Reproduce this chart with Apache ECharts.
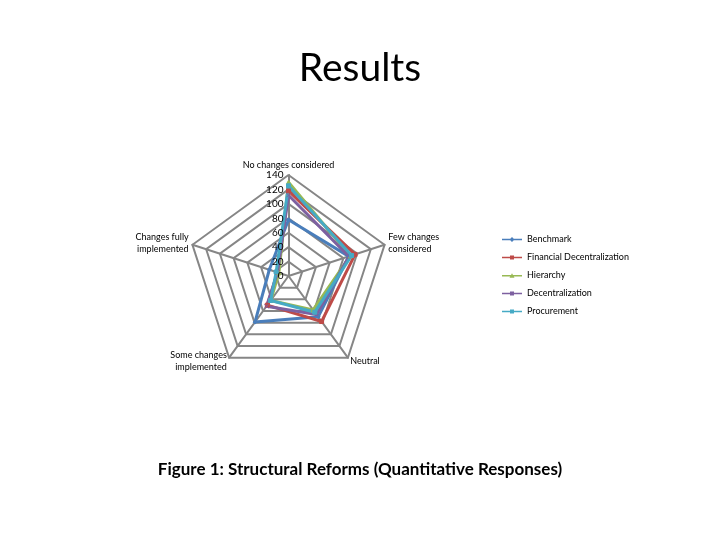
<!DOCTYPE html>
<html>
<head>
<meta charset="utf-8">
<script src="https://cdn.jsdelivr.net/npm/echarts@6/dist/echarts.min.js"></script>
<style>
  html, body { margin: 0; padding: 0; background: #fff; }
  #chart { width: 720px; height: 540px; }
</style>
</head>
<body>
<div id="chart"></div>
<script>
// categories in the order Excel draws them (clockwise from top)
const categories = ['No changes considered', 'Few changes\nconsidered', 'Neutral', 'Some changes\nimplemented', 'Changes fully\nimplemented']
const seriesNames = ['Benchmark', 'Financial Decentralization', 'Hierarchy', 'Decentralization', 'Procurement']
const benchmark = [78, 88, 70, 79, 28]
const financialDec = [118, 97, 78, 50, 16]
const hierarchy = [130, 90, 58, 42, 14]
const decentralization = [112, 88, 66, 52, 16]
const procurement = [125, 92, 62, 42, 18]
const tickValues = [0, 20, 40, 60, 80, 100, 120, 140]

const colors = ['#4A7EBB', '#BE4B48', '#98B954', '#7D60A0', '#46AAC5']
const symbols = ['diamond', 'rect', 'triangle', 'path://M0,0L10,10M10,0L0,10', 'rect']
// legend icons: line with the marker in the middle
const bar = 'M0,3.3H20V4.7H0Z '
const legendIcons = [
  'path://' + bar + 'M10,1.5L12.5,4L10,6.5L7.5,4Z',
  'path://' + bar + 'M8,2H12V6H8Z',
  'path://' + bar + 'M10,1.5L12.5,6H7.5Z',
  'path://' + bar + 'M8,2H12V6H8Z',
  'path://' + bar + 'M8,2H12V6H8Z'
]

// echarts radar runs counter-clockwise, Excel clockwise
const order = [0, 4, 3, 2, 1]
const maxVal = tickValues[tickValues.length - 1]
const cx = 288.5, cy = 276, R = 101

const chart = echarts.init(document.getElementById('chart'))
const allData = [benchmark, financialDec, hierarchy, decentralization, procurement]

chart.setOption({
  animation: false,
  textStyle: { fontFamily: 'Lato' },
  title: [
    { text: 'Results', left: 'center', top: 44,
      textStyle: { fontSize: 39, fontWeight: 'normal', color: '#000', fontFamily: 'Lato' } },
    { text: 'Figure 1: Structural Reforms (Quantitative Responses)', left: 'center', top: 456,
      textStyle: { fontSize: 17, fontWeight: 'bold', color: '#000', fontFamily: 'Lato' } }
  ],
  legend: {
    orient: 'vertical',
    left: 497,
    top: 230,
    itemGap: 9,
    itemWidth: 20,
    itemHeight: 8,
    textStyle: { fontSize: 9, color: '#000' },
    data: seriesNames.map((n, k) => ({ name: n, icon: legendIcons[k], itemStyle: { color: colors[k] } }))
  },
  grid: { left: cx, top: cy - R, width: 1, height: R, z: 10 },
  xAxis: { type: 'value', show: false },
  yAxis: {
    type: 'value', min: 0, max: maxVal, interval: 20, z: 10,
    axisLine: { show: false }, axisTick: { show: false }, splitLine: { show: false },
    axisLabel: { color: '#000', fontSize: 10, margin: 5 }
  },
  radar: {
    center: [cx, cy],
    radius: R,
    startAngle: 90,
    shape: 'polygon',
    splitNumber: 7,
    z: 1,
    indicator: order.map(i => ({ name: categories[i], max: maxVal, min: 0 })),
    axisName: { color: '#000', fontSize: 9, lineHeight: 12 },
    nameGap: 4,
    axisLine: { lineStyle: { color: '#868686', width: 2 } },
    splitLine: { lineStyle: { color: '#868686', width: 2 } },
    splitArea: { show: false },
    axisLabel: { show: false }
  },
  series: [{
    type: 'radar',
    z: 2,
    symbolSize: 4,
    data: allData.map((d, k) => ({
      name: seriesNames[k],
      value: order.map(i => d[i]),
      symbol: symbols[k],
      lineStyle: { color: colors[k], width: 3 },
      itemStyle: { color: colors[k], borderColor: colors[k] }
    }))
  }]
})
</script>
</body>
</html>
